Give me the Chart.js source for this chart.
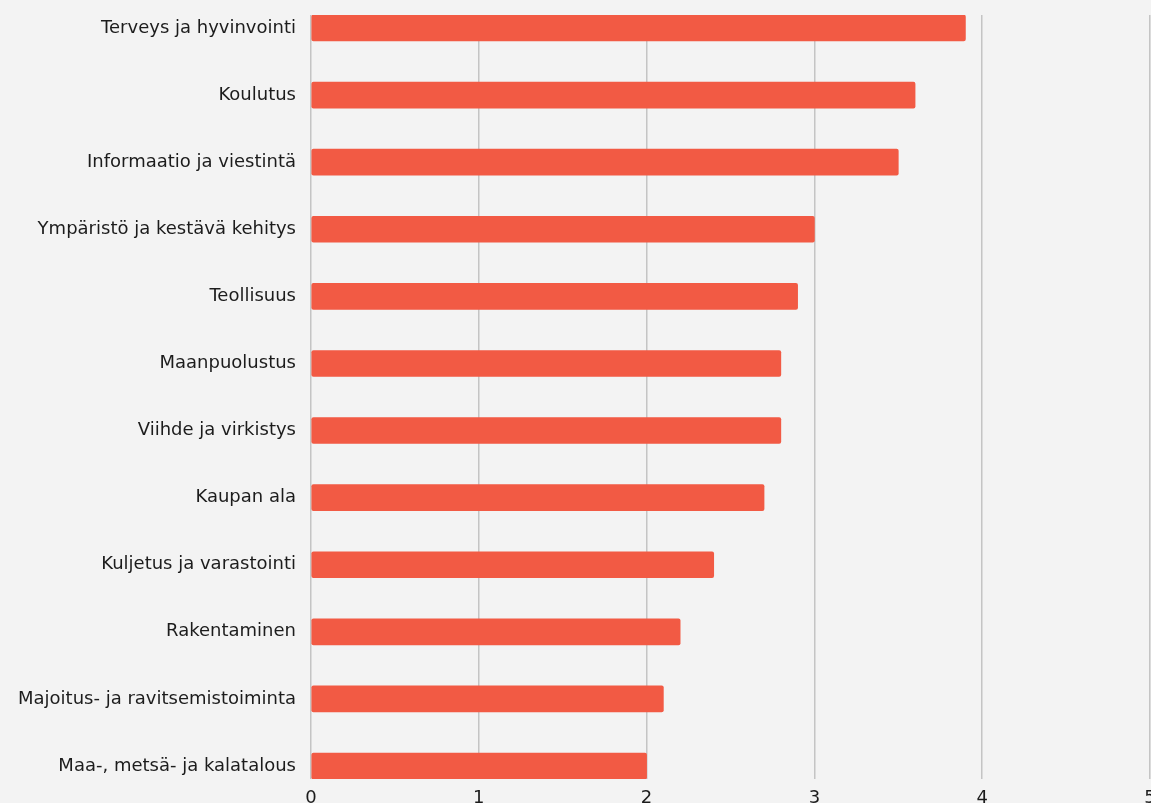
<!DOCTYPE html>
<html>
<head>
<meta charset="utf-8">
<script src="https://cdn.jsdelivr.net/npm/chart.js@4"></script>
<style>
  html, body { margin: 0; padding: 0; background: #f3f3f3; overflow: hidden; }
  #wrap { width: 1151px; height: 812px; }
</style>
</head>
<body>
<div id="wrap"><canvas id="myChart"></canvas></div>
<script>
// Toimialat ja arvot (luettu kuvasta)
const categories = [
    'Terveys ja hyvinvointi',
    'Koulutus',
    'Informaatio ja viestintä',
    'Ympäristö ja kestävä kehitys',
    'Teollisuus',
    'Maanpuolustus',
    'Viihde ja virkistys',
    'Kaupan ala',
    'Kuljetus ja varastointi',
    'Rakentaminen',
    'Majoitus- ja ravitsemistoiminta',
    'Maa-, metsä- ja kalatalous'
];
const values = [3.9, 3.6, 3.5, 3.0, 2.9, 2.8, 2.8, 2.7, 2.4, 2.2, 2.1, 2.0];
const xTicks = [0, 1, 2, 3, 4, 5];

const points = values.map((v, i) => ({ x: v, y: i }));
const labelFont = { family: 'DejaVu Sans', size: 18 };

const ctx = document.getElementById('myChart').getContext('2d');
new Chart(ctx, {
    type: 'bar',
    data: {
        datasets: [{
            data: points,
            backgroundColor: '#f25a44',
            borderRadius: 2,
            borderSkipped: false,
            barThickness: 26
        }]
    },
    options: {
        indexAxis: 'y',
        responsive: true,
        maintainAspectRatio: false,
        animation: false,
        layout: { padding: { top: 15, right: 1, left: 0, bottom: 0 } },
        plugins: { legend: { display: false }, tooltip: { enabled: false } },
        scales: {
            x: {
                type: 'linear',
                min: xTicks[0],
                max: xTicks[xTicks.length - 1],
                afterBuildTicks: axis => { axis.ticks = xTicks.map(v => ({ value: v })); },
                afterFit: axis => {
                    axis.height = 33;
                    axis.paddingLeft = 0;
                    axis.paddingRight = 0;
                },
                grid: { color: '#c4c4c4', lineWidth: 1.5, drawTicks: false },
                border: { display: false },
                ticks: {
                    padding: 9,
                    maxRotation: 0,
                    color: '#1c1c1c',
                    font: labelFont
                }
            },
            y: {
                type: 'linear',
                reverse: true,
                offset: false,
                min: -0.194,
                max: categories.length - 1 + 0.194,
                afterBuildTicks: axis => { axis.ticks = categories.map((c, i) => ({ value: i })); },
                afterFit: axis => {
                    axis.width = 311;
                    axis.paddingTop = 0;
                    axis.paddingBottom = 0;
                },
                grid: { display: false, drawTicks: false },
                border: { display: false },
                ticks: {
                    padding: 15,
                    color: '#1c1c1c',
                    font: labelFont,
                    callback: v => categories[v]
                }
            }
        }
    }
});
</script>
</body>
</html>
